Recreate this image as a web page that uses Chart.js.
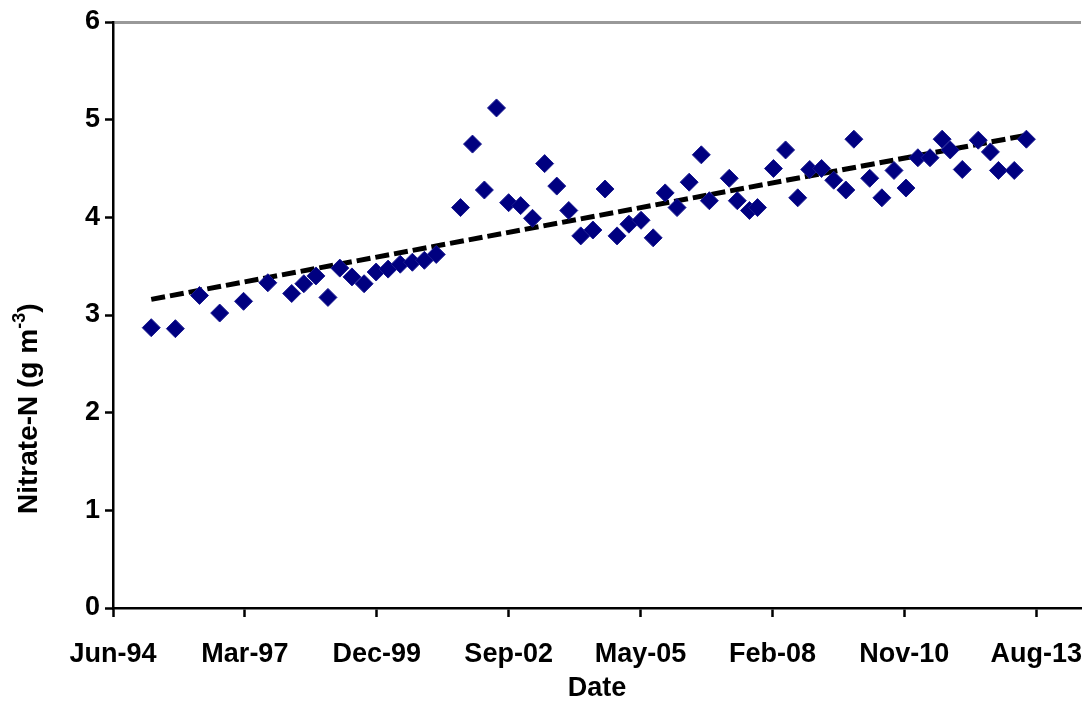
<!DOCTYPE html>
<html>
<head>
<meta charset="utf-8">
<title>Nitrate-N</title>
<script src="https://cdn.jsdelivr.net/npm/chart.js@4/dist/chart.umd.min.js"></script>
<style>
  html, body { margin: 0; padding: 0; background: #fff; }
  #wrap { width: 1091px; height: 705px; position: relative; }
</style>
</head>
<body>
<div id="wrap"><canvas id="nitrateChart"></canvas></div>
<script>
// sampling months (first of month) and nitrate-N readings, g m-3
const sampleMonths = [
  '1995-04', '1995-10', '1996-04', '1996-09', '1997-03', '1997-09',
  '1998-03', '1998-06', '1998-09', '1998-12', '1999-03', '1999-06',
  '1999-09', '1999-12', '2000-03', '2000-06', '2000-09', '2000-12',
  '2001-03', '2001-09', '2001-12', '2002-03', '2002-06', '2002-09',
  '2002-12', '2003-03', '2003-06', '2003-09', '2003-12', '2004-03',
  '2004-06', '2004-09', '2004-12', '2005-03', '2005-06', '2005-09',
  '2005-12', '2006-03', '2006-06', '2006-09', '2006-11', '2007-04',
  '2007-06', '2007-09', '2007-11', '2008-03', '2008-06', '2008-09',
  '2008-12', '2009-03', '2009-06', '2009-09', '2009-11', '2010-03',
  '2010-06', '2010-09', '2010-12', '2011-03', '2011-06', '2011-09',
  '2011-11', '2012-02', '2012-06', '2012-09', '2012-11', '2013-03',
  '2013-06'
];
const nitrateN = [
  2.87, 2.86, 3.20, 3.02, 3.14, 3.33,
  3.22, 3.32, 3.40, 3.18, 3.48, 3.39,
  3.32, 3.44, 3.47, 3.52, 3.54, 3.56,
  3.62, 4.10, 4.75, 4.28, 5.12, 4.15,
  4.12, 3.99, 4.55, 4.32, 4.07, 3.81,
  3.87, 4.29, 3.81, 3.93, 3.97, 3.79,
  4.25, 4.10, 4.36, 4.64, 4.17, 4.40,
  4.17, 4.07, 4.10, 4.50, 4.69, 4.20,
  4.49, 4.50, 4.38, 4.28, 4.80, 4.40,
  4.20, 4.48, 4.30, 4.61, 4.61, 4.80,
  4.69, 4.49, 4.79, 4.67, 4.48, 4.48,
  4.80
];
// linear trend, value at first and last sample
const trendEnds = [3.16, 4.84];

const xTickLabels = ['Jun-94', 'Mar-97', 'Dec-99', 'Sep-02', 'May-05', 'Feb-08', 'Nov-10', 'Aug-13'];
const yTickLabels = ['0', '1', '2', '3', '4', '5', '6'];

const DAY = 86400000;
const axisStart = Date.UTC(1994, 5, 15);
const tickStep = 1000; // days between date ticks

function dayOffset(ym) {
  const [y, m] = ym.split('-').map(Number);
  return (Date.UTC(y, m - 1, 1) - axisStart) / DAY;
}

const points = sampleMonths.map((d, i) => ({ x: dayOffset(d), y: nitrateN[i] }));
const trend = [
  { x: dayOffset(sampleMonths[0]), y: trendEnds[0] },
  { x: dayOffset(sampleMonths[sampleMonths.length - 1]), y: trendEnds[1] }
];

const family = "'Liberation Sans', Arial, sans-serif";
const font = { family, weight: 'bold' };

// y-axis title with a raised "-3", sitting a little below the axis middle
const yTitle = {
  id: 'yTitle',
  afterDraw(chart) {
    const { ctx, chartArea } = chart;
    const main = 'Nitrate-N (g m';
    const sup = '-3';
    const tail = ')';
    ctx.save();
    ctx.fillStyle = '#000';
    ctx.textBaseline = 'middle';
    ctx.font = `bold 28px ${family}`;
    const wMain = ctx.measureText(main).width;
    const wTail = ctx.measureText(tail).width;
    ctx.font = `bold 18px ${family}`;
    const wSup = ctx.measureText(sup).width;
    const total = wMain + wSup + wTail;
    const cy = chartArea.top + (chartArea.bottom - chartArea.top) * 0.66;
    ctx.translate(29, cy);
    ctx.rotate(-Math.PI / 2);
    let x = -total / 2;
    ctx.font = `bold 28px ${family}`;
    ctx.textAlign = 'left';
    ctx.fillText(main, x, 0);
    x += wMain;
    ctx.font = `bold 18px ${family}`;
    ctx.fillText(sup, x, -9);
    x += wSup;
    ctx.font = `bold 28px ${family}`;
    ctx.fillText(tail, x, 0);
    ctx.restore();
  }
};

new Chart(document.getElementById('nitrateChart'), {
  type: 'scatter',
  data: {
    datasets: [
      {
        label: 'Nitrate-N',
        data: points,
        pointStyle: 'rectRot',
        pointRadius: 9,
        pointHoverRadius: 9,
        backgroundColor: '#000080',
        borderColor: '#1a1a90',
        borderWidth: 1,
        order: 1
      },
      {
        type: 'line',
        label: 'Trend',
        data: trend,
        borderColor: '#000',
        borderWidth: 5,
        borderDash: [14, 5],
        pointRadius: 0,
        fill: false,
        order: 2
      }
    ]
  },
  options: {
    responsive: true,
    maintainAspectRatio: false,
    animation: false,
    layout: { padding: { top: 22, right: 0, left: 0, bottom: 0 } },
    plugins: {
      legend: { display: false },
      tooltip: { enabled: false }
    },
    scales: {
      x: {
        type: 'linear',
        min: 0,
        max: 7340,
        afterBuildTicks: axis => {
          axis.ticks = xTickLabels.map((_, i) => ({ value: i * tickStep }));
        },
        afterFit: axis => {
          axis.height = 97;
          // let the plot run to the right edge; the last label still fits
          axis.paddingLeft = 0;
          axis.paddingRight = 0;
        },
        ticks: {
          callback: (value, index) => xTickLabels[index],
          color: '#000',
          font: { ...font, size: 27 },
          padding: 21,
          maxRotation: 0,
          autoSkip: false
        },
        grid: {
          drawOnChartArea: false,
          tickLength: 9,
          tickWidth: 2.5,
          tickColor: '#000'
        },
        border: { color: '#000', width: 2.5 },
        title: {
          display: true,
          text: 'Date',
          color: '#000',
          font: { ...font, size: 27 },
          padding: { top: 0, bottom: 0 }
        }
      },
      y: {
        min: 0,
        max: 6,
        afterFit: axis => { axis.width = 113; },
        ticks: {
          stepSize: 1,
          callback: (value, index) => yTickLabels[index],
          color: '#000',
          font: { ...font, size: 27 },
          padding: 5
        },
        grid: {
          // only the top edge of the plot gets a grey rule
          color: c => (c.tick && c.tick.value === 6 ? '#999' : 'rgba(0,0,0,0)'),
          lineWidth: 3,
          tickLength: 8,
          tickWidth: 2.5,
          tickColor: '#000'
        },
        border: { color: '#000', width: 2.5 }
      }
    }
  },
  plugins: [yTitle]
});
</script>
</body>
</html>
